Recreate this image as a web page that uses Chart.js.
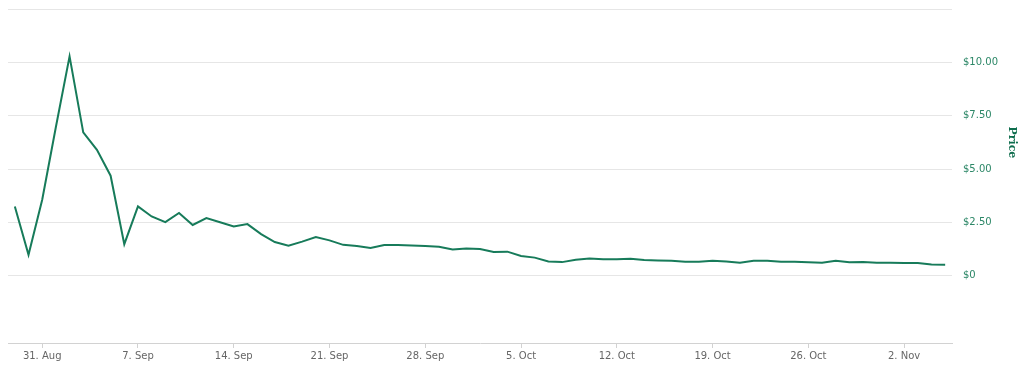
<!DOCTYPE html>
<html>
<head>
<meta charset="utf-8">
<script src="https://cdn.jsdelivr.net/npm/chart.js@4.4.1/dist/chart.umd.min.js"></script>
<style>
  html, body { margin: 0; padding: 0; background: #fff; }
  #wrap { width: 1023px; height: 372px; position: relative; }
</style>
</head>
<body>
<div id="wrap"><canvas id="priceChart"></canvas></div>
<script>
// daily closing price, 29 Aug - 5 Nov
var dates = [
    '29. Aug', '30. Aug', '31. Aug',
    '1. Sep', '2. Sep', '3. Sep', '4. Sep', '5. Sep', '6. Sep', '7. Sep', '8. Sep', '9. Sep', '10. Sep',
    '11. Sep', '12. Sep', '13. Sep', '14. Sep', '15. Sep', '16. Sep', '17. Sep', '18. Sep', '19. Sep', '20. Sep',
    '21. Sep', '22. Sep', '23. Sep', '24. Sep', '25. Sep', '26. Sep', '27. Sep', '28. Sep', '29. Sep', '30. Sep',
    '1. Oct', '2. Oct', '3. Oct', '4. Oct', '5. Oct', '6. Oct', '7. Oct', '8. Oct', '9. Oct', '10. Oct',
    '11. Oct', '12. Oct', '13. Oct', '14. Oct', '15. Oct', '16. Oct', '17. Oct', '18. Oct', '19. Oct', '20. Oct',
    '21. Oct', '22. Oct', '23. Oct', '24. Oct', '25. Oct', '26. Oct', '27. Oct', '28. Oct', '29. Oct', '30. Oct',
    '31. Oct', '1. Nov', '2. Nov', '3. Nov', '4. Nov', '5. Nov'
];

var prices = [
    3.25, 0.98, 3.56,
    6.97, 10.28, 6.72, 5.90, 4.69, 1.48, 3.25, 2.78, 2.51, 2.94,
    2.38, 2.70, 2.51, 2.31, 2.42, 1.95, 1.58, 1.41, 1.60, 1.81,
    1.66, 1.45, 1.39, 1.30, 1.44, 1.44, 1.42, 1.39, 1.36, 1.23,
    1.28, 1.25, 1.11, 1.13, 0.93, 0.85, 0.67, 0.64, 0.75, 0.81,
    0.78, 0.78, 0.80, 0.74, 0.72, 0.70, 0.66, 0.66, 0.70, 0.67,
    0.61, 0.70, 0.70, 0.66, 0.66, 0.63, 0.61, 0.70, 0.63, 0.64,
    0.61, 0.61, 0.60, 0.60, 0.53, 0.52
];

// labelled x ticks (weekly) and y ticks
var xTickLabels = ['31. Aug', '7. Sep', '14. Sep', '21. Sep', '28. Sep', '5. Oct', '12. Oct', '19. Oct', '26. Oct', '2. Nov'];
var yTicks = [0, 2.5, 5, 7.5, 10, 12.5];

var lineColor = '#177b5a';
var labelColor = '#2c8767';

// axis title drawn beside the tick labels, centred on the 0..12.5 range
var axisTitle = {
    id: 'axisTitle',
    afterDraw: function(chart) {
        var y = chart.scales.y;
        var ctx = chart.ctx;
        var mid = (y.getPixelForValue(yTicks[0]) + y.getPixelForValue(yTicks[yTicks.length - 1])) / 2;
        ctx.save();
        ctx.translate(y.right - 11, mid);
        ctx.rotate(Math.PI / 2);
        ctx.fillStyle = '#0f6e4e';
        ctx.font = 'bold 11px "DejaVu Serif"';
        ctx.textAlign = 'center';
        ctx.textBaseline = 'middle';
        ctx.fillText('Price', 0, 0);
        ctx.restore();
    }
};

var ctx = document.getElementById('priceChart').getContext('2d');
var priceChart = new Chart(ctx, {
    type: 'line',
    data: {
        labels: dates,
        datasets: [
            {
                label: 'Price',
                data: prices,
                fill: false,
                borderColor: lineColor,
                borderWidth: 2,
                pointRadius: 0,
                tension: 0
            }
        ]
    },
    options: {
        responsive: true,
        maintainAspectRatio: false,
        animation: false,
        layout: {
            padding: { left: 8, top: 9, right: 0, bottom: 0 }
        },
        plugins: {
            legend: { display: false },
            tooltip: { enabled: false }
        },
        scales: {
            x: {
                type: 'category',
                offset: true,
                afterBuildTicks: function(scale) {
                    scale.ticks = scale.ticks.filter(function(t) {
                        return xTickLabels.indexOf(dates[t.value]) !== -1;
                    });
                },
                afterFit: function(scale) {
                    scale.height = 29;
                    scale.paddingLeft = 0;
                    scale.paddingRight = 0;
                },
                grid: {
                    drawOnChartArea: false,
                    drawTicks: true,
                    tickLength: 5,
                    color: '#d2d2d2'
                },
                border: { display: true, color: '#d2d2d2', width: 1 },
                ticks: {
                    autoSkip: false,
                    maxRotation: 0,
                    padding: 2,
                    color: '#666',
                    font: { family: '"DejaVu Sans"', size: 10 },
                    callback: function(value) { return dates[value]; }
                }
            },
            y: {
                type: 'linear',
                position: 'right',
                min: -3.15,
                max: 12.5,
                afterBuildTicks: function(scale) {
                    scale.ticks = yTicks.map(function(v) { return { value: v }; });
                },
                afterFit: function(scale) {
                    scale.width = 71;
                    scale.paddingTop = 0;
                    scale.paddingBottom = 0;
                },
                grid: {
                    color: '#e6e6e6',
                    drawTicks: false
                },
                border: { display: false },
                ticks: {
                    padding: 11,
                    color: labelColor,
                    font: { family: '"DejaVu Sans"', size: 10 },
                    callback: function(value) {
                        if (value === 12.5) return '';
                        if (value === 0) return '$0';
                        return '$' + value.toFixed(2);
                    }
                }
            }
        }
    },
    plugins: [axisTitle]
});
</script>
</body>
</html>
